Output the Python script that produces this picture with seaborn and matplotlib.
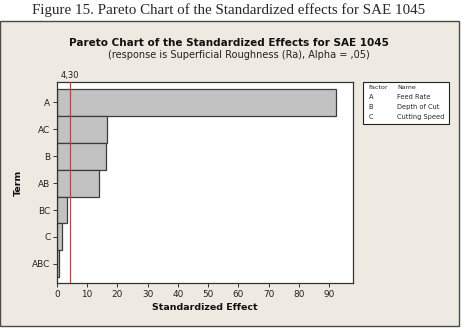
import matplotlib
matplotlib.use("Agg")
import matplotlib.pyplot as plt
import seaborn as sns
import pandas as pd
from matplotlib.patches import Rectangle

terms = ["A", "AC", "B", "AB", "BC", "C", "ABC"]
effects = [92.2, 16.7, 16.3, 13.9, 3.4, 1.75, 0.87]
critical = 4.30
critical_label = "4,30"
x_ticks = [0, 10, 20, 30, 40, 50, 60, 70, 80, 90]
legend_factors = ["A", "B", "C"]
legend_names = ["Feed Rate", "Depth of Cut", "Cutting Speed"]

sns.set_theme(style="white")
plt.rcParams["font.family"] = ["DejaVu Sans"]

W, H = 466, 330
fig = plt.figure(figsize=(W / 100, H / 100), dpi=100)
fig.patch.set_facecolor("white")

# beige panel
panel = Rectangle((0, 4 / H), 459 / W, (326 - 21) / H, transform=fig.transFigure,
                  facecolor="#EEEAE1", edgecolor="#4a4a4a", linewidth=1.0, zorder=-10)
fig.patches.append(panel)

fig.text(229 / W, 1 - 10 / H, "Figure 15. Pareto Chart of the Standardized effects for SAE 1045",
         ha="center", va="center", fontsize=10.8, family=["Liberation Serif", "DejaVu Serif"])
fig.text(229 / W, 1 - 43.5 / H, "Pareto Chart of the Standardized Effects for SAE 1045",
         ha="center", va="center", fontsize=7.5, fontweight="bold", color="#111111")
fig.text(239 / W, 1 - 54.5 / H, "(response is Superficial Roughness (Ra), Alpha = ,05)",
         ha="center", va="center", fontsize=7.0, color="#222222")

ax = fig.add_axes([56.7 / W, 1 - 283.3 / H, (353.3 - 56.7) / W, (283.3 - 82) / H])
ax.set_facecolor("white")
df = pd.DataFrame({"Term": terms, "Effect": effects})
sns.barplot(data=df, x="Effect", y="Term", orient="h", color="#C2C2C2", saturation=1,
            edgecolor="#3c3c3c", linewidth=0.9, width=1.0, ax=ax)
ax.axvline(critical, color="#D03A3A", linewidth=0.9, zorder=5)
ax.set_xlim(0, 97.9)
ax.set_ylim(6.72, -0.75)
ax.set_xticks(x_ticks)
ax.set_xticklabels([str(t) for t in x_ticks], fontsize=6.4, color="#222222")
ax.set_yticks(range(len(terms)))
ax.set_yticklabels(terms, fontsize=6.4, color="#222222")
ax.tick_params(axis="both", direction="out", length=3, width=0.7, color="#333333", pad=1.5,
               bottom=True, left=True)
for s in ax.spines.values():
    s.set_color("#333333")
    s.set_linewidth(0.9)
ax.set_xlabel("Standardized Effect", fontsize=6.8, fontweight="bold", color="#111111", labelpad=3)
ax.set_ylabel("Term", fontsize=6.8, fontweight="bold", color="#111111")
ax.yaxis.set_label_coords((23 - 56.7) / 296.6, 0.5)
ax.text(critical, -0.82, critical_label, ha="center", va="bottom", fontsize=6.0, color="#222222")

# legend box
lx0, ly0, lx1, ly1 = 363.3, 81.7, 448.7, 124
fig.patches.append(Rectangle((lx0 / W, 1 - ly1 / H), (lx1 - lx0) / W, (ly1 - ly0) / H,
                             transform=fig.transFigure, facecolor="white",
                             edgecolor="#222222", linewidth=0.8, zorder=2))
rows_y = [87.4, 97.4, 107.3, 117.2]
fig.text(368.5 / W, 1 - rows_y[0] / H, "Factor", fontsize=4.6, va="center", zorder=3)
fig.text(397 / W, 1 - rows_y[0] / H, "Name", fontsize=4.6, va="center", zorder=3)
for f, n, y in zip(legend_factors, legend_names, rows_y[1:]):
    fig.text(368.5 / W, 1 - y / H, f, fontsize=4.8, va="center", zorder=3)
    fig.text(397 / W, 1 - y / H, n, fontsize=4.8, va="center", zorder=3)

fig.savefig("out.png", dpi=100, facecolor=fig.get_facecolor())
